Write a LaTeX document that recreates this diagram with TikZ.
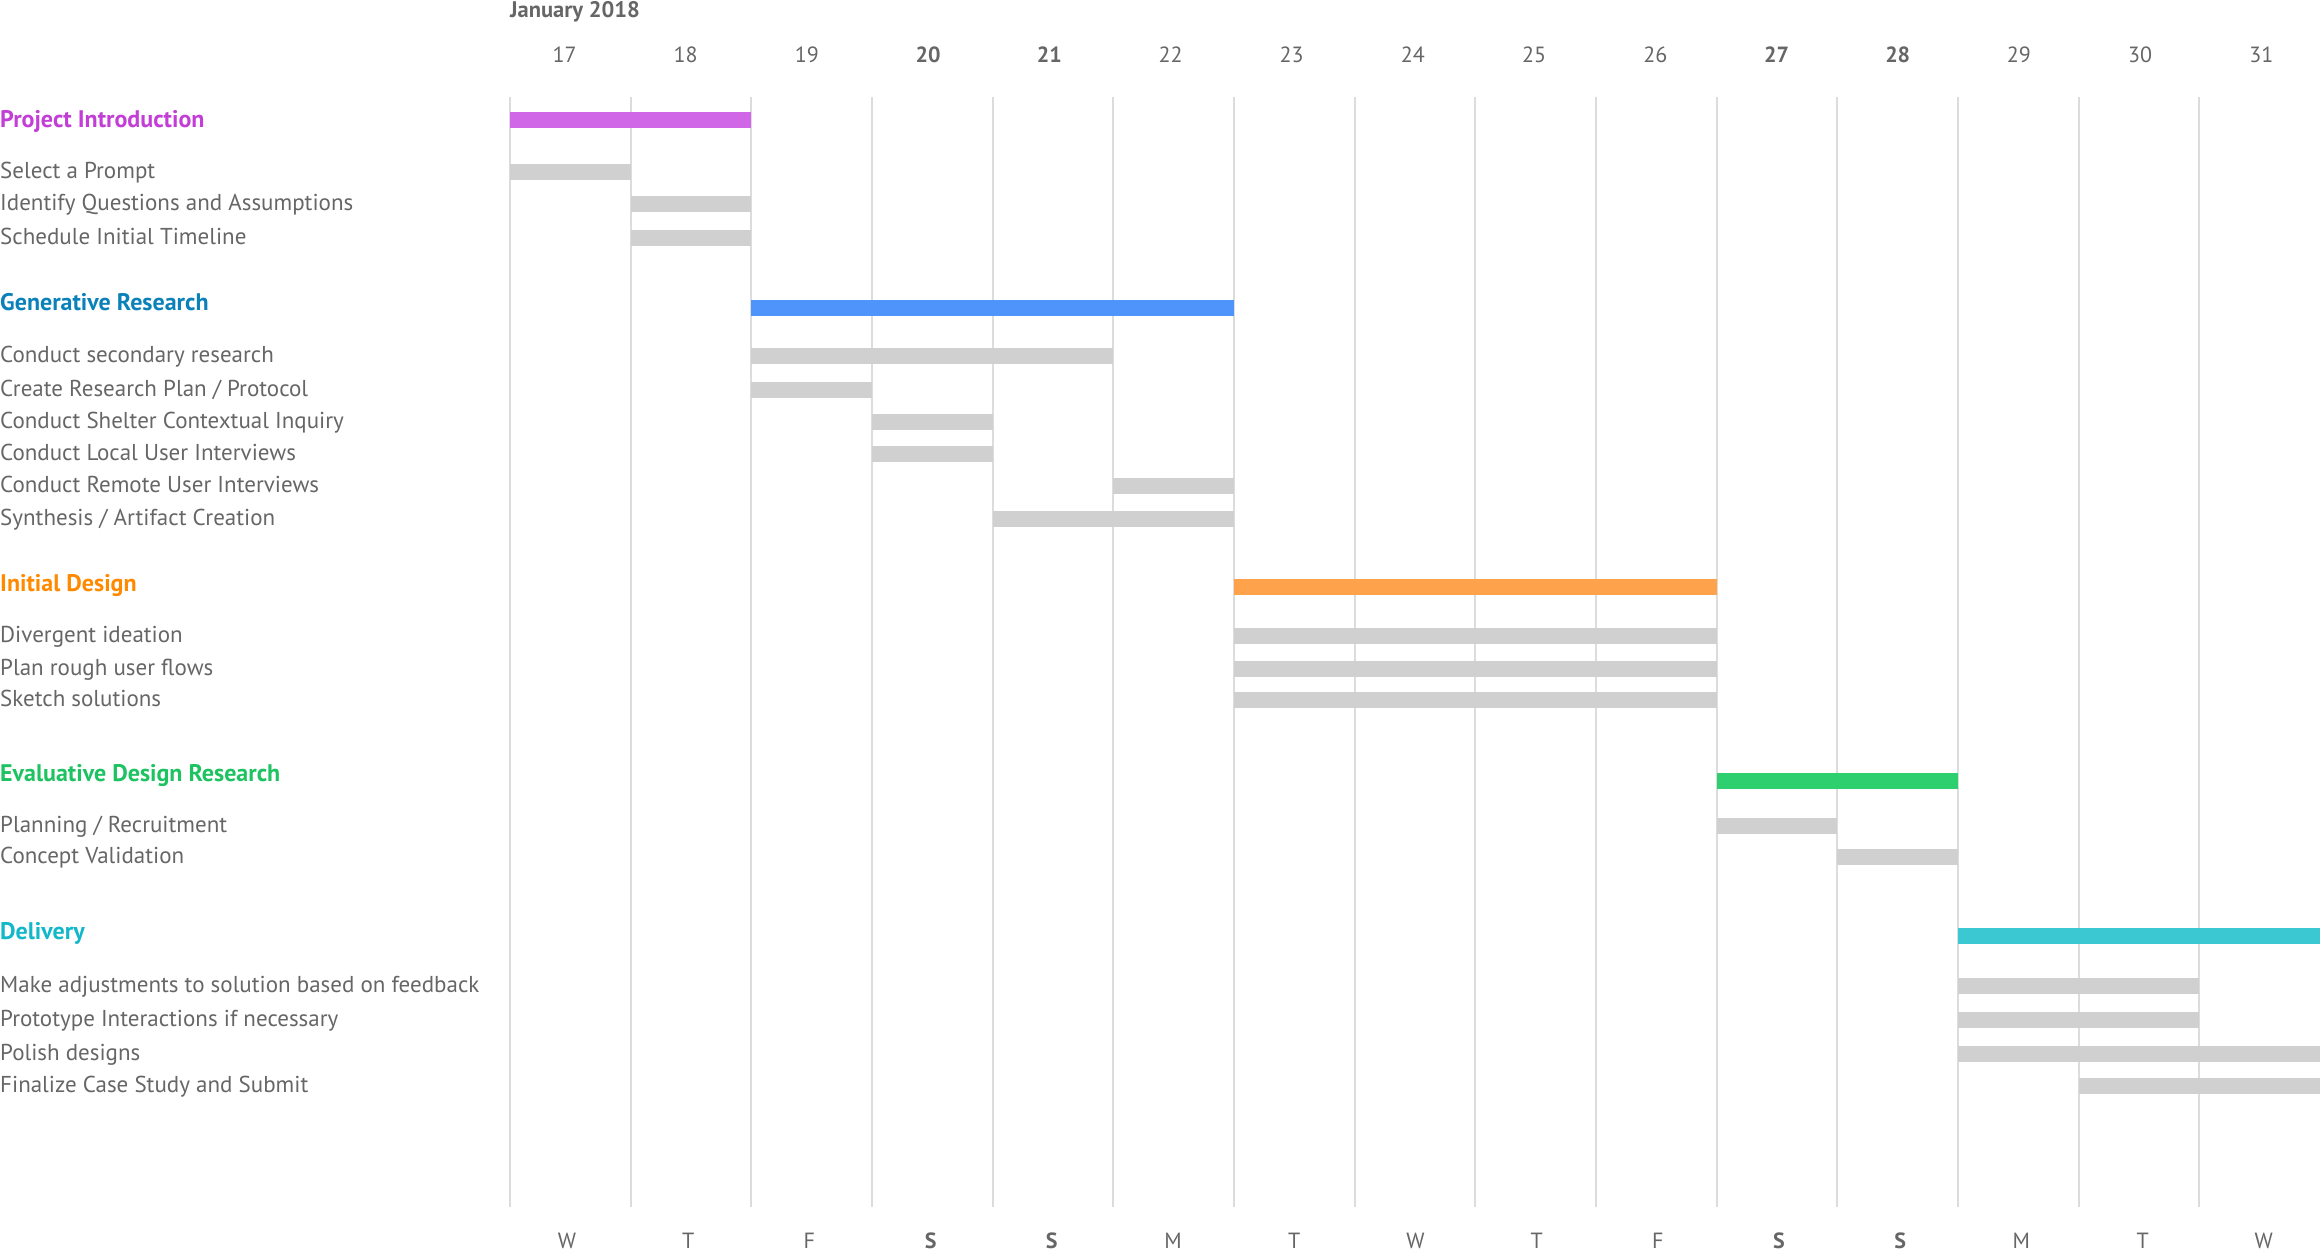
\documentclass[tikz,border=0pt]{standalone}
\usepackage{fontspec}
\setmainfont{PT Sans}

\definecolor{txtgray}{HTML}{666666}
\definecolor{gridgray}{HTML}{DCDCDC}
\definecolor{bargray}{HTML}{D0D0D0}
\definecolor{introtxt}{HTML}{C23ED6}
\definecolor{introbar}{HTML}{D067E6}
\definecolor{gentxt}{HTML}{0A82B9}
\definecolor{genbar}{HTML}{4F94FA}
\definecolor{designtxt}{HTML}{FF8A00}
\definecolor{designbar}{HTML}{FFA24C}
\definecolor{evaltxt}{HTML}{1DC261}
\definecolor{evalbar}{HTML}{2ECF6E}
\definecolor{delivtxt}{HTML}{12B7C9}
\definecolor{delivbar}{HTML}{3CC8D3}

\begin{document}
\begin{tikzpicture}[x=1pt, y=-1pt,
        every node/.style={font=\fontsize{23}{27}\selectfont, text=txtgray, inner sep=0pt},
        tasklabel/.style={anchor=base west},
        phaselabel/.style={anchor=base west, font=\fontsize{24}{28}\selectfont\bfseries},
        daylabel/.style={anchor=base},
        gridline/.style={draw=gridgray, line width=2pt}]
        \useasboundingbox (0,0) rectangle (2320,1250);
        \def\xo{510}
        \def\colw{120.67}

        % day columns
        \foreach \i in {0,...,14}
            \draw[gridline] (\xo+\i*\colw,97) -- (\xo+\i*\colw,1207);

        \node[anchor=base west, font=\fontsize{22.5}{27}\selectfont\bfseries] (month) at (\xo,17.5) {January 2018};

        \foreach \d/\w/\f [count=\i from 0] in {17/W/\mdseries, 18/T/\mdseries, 19/F/\mdseries,
                20/S/\bfseries, 21/S/\bfseries, 22/M/\mdseries, 23/T/\mdseries, 24/W/\mdseries,
                25/T/\mdseries, 26/F/\mdseries, 27/S/\bfseries, 28/S/\bfseries, 29/M/\mdseries,
                30/T/\mdseries, 31/W/\mdseries} {
            \node[daylabel, font=\fontsize{22}{26}\selectfont\f] (num\d) at (564.5+\i*121.2,62) {\d};
            \node[daylabel, font=\fontsize{22}{26}\selectfont\f] (wday\d) at (567+\i*121.2,1248) {\w};
        }

        % phases
        \foreach \y/\yl/\s/\e/\ct/\cb/\t [count=\n] in {
                120/127/0/2/introtxt/introbar/{Project Introduction},
                308/310/2/6/gentxt/genbar/{Generative Research},
                587/591/6/10/designtxt/designbar/{Initial Design},
                781/781/10/12/evaltxt/evalbar/{Evaluative Design Research},
                936/939/12/15/delivtxt/delivbar/{Delivery}} {
            \fill[\cb] (\xo+\s*\colw,\y-8) rectangle (\xo+\e*\colw,\y+8);
            \node[phaselabel, text=\ct] (phase\n) at (0,\yl) {\t};
        }

        % tasks
        \foreach \y/\s/\e/\t [count=\n] in {
                172/0/1/{Select a Prompt},
                204/1/2/{Identify Questions and Assumptions},
                238/1/2/{Schedule Initial Timeline},
                356/2/5/{Conduct secondary research},
                390/2/3/{Create Research Plan / Protocol},
                422/3/4/{Conduct Shelter Contextual Inquiry},
                454/3/4/{Conduct Local User Interviews},
                486/5/6/{Conduct Remote User Interviews},
                519/4/6/{Synthesis / Artifact Creation},
                636/6/10/{Divergent ideation},
                669/6/10/{Plan rough user flows},
                700/6/10/{Sketch solutions},
                826/10/11/{Planning / Recruitment},
                857/11/12/{Concept Validation},
                986/12/14/{Make adjustments to solution based on feedback},
                1020/12/14/{Prototype Interactions if necessary},
                1054/12/15/{Polish designs},
                1086/13/15/{Finalize Case Study and Submit}} {
            \fill[bargray] (\xo+\s*\colw,\y-8) rectangle (\xo+\e*\colw,\y+8);
            \node[tasklabel] (task\n) at (0,\y+6) {\t};
        }
\end{tikzpicture}
\end{document}
